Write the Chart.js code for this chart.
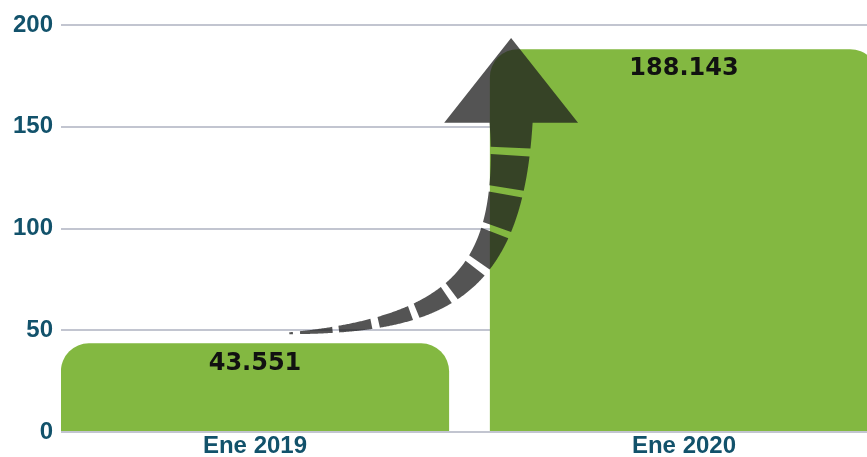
<!DOCTYPE html>
<html>
<head>
<meta charset="utf-8">
<script src="https://cdn.jsdelivr.net/npm/chart.js@4.4.1/dist/chart.umd.min.js"></script>
<style>
  body { margin: 0; background: #fff; overflow: hidden; }
</style>
</head>
<body>
<canvas id="chartContainer" width="867" height="457"></canvas>
<script>
"use strict";

// 1: data
let periods = ['Ene 2019', 'Ene 2020'];
let totals = [43.551, 188.143];
let yTicks = [0, 50, 100, 150, 200];

// arrow path, in axis units (x = category index, y = value)
let arrowPath = [
  { x: 0.08, y: 48.5 },
  { x: 0.455, y: 52.6 },
  { x: 0.597, y: 74.7 },
  { x: 0.597, y: 152 }
];
let arrowTipY = 193.6;

// 2: plugins
// curved dashed arrow drawn over the bars
const arrowPlugin = {
  id: 'arrow',
  afterDatasetsDraw(chart) {
    const ctx = chart.ctx;
    const xs = chart.scales.x;
    const ys = chart.scales.y;
    const p = arrowPath.map(pt => ({ x: xs.getPixelForValue(pt.x), y: ys.getPixelForValue(pt.y) }));
    const bez = t => {
      const u = 1 - t;
      return {
        x: u*u*u*p[0].x + 3*u*u*t*p[1].x + 3*u*t*t*p[2].x + t*t*t*p[3].x,
        y: u*u*u*p[0].y + 3*u*u*t*p[1].y + 3*u*t*t*p[2].y + t*t*t*p[3].y
      };
    };
    // sample curve
    const N = 400;
    let pts = [];
    let len = 0;
    for (let i = 0; i <= N; i++) {
      const pt = bez(i / N);
      if (i > 0) len += Math.hypot(pt.x - pts[i-1].x, pt.y - pts[i-1].y);
      pt.s = len;
      pts.push(pt);
    }
    for (let i = 0; i <= N; i++) {
      const a = pts[Math.max(0, i-1)], b = pts[Math.min(N, i+1)];
      const dx = b.x - a.x, dy = b.y - a.y, d = Math.hypot(dx, dy);
      pts[i].nx = -dy / d;
      pts[i].ny = dx / d;
      const f = pts[i].s / len;
      pts[i].w = 2 + 41 * Math.pow(f, 1.1);
    }
    // dash pattern measured from the head backwards
    const on = s => {
      const fromEnd = len - s;
      if (fromEnd < 26) return true;
      const r = (fromEnd - 26) % 40;
      return r >= 6;
    };
    ctx.save();
    ctx.fillStyle = 'rgba(30,30,30,0.76)';
    ctx.beginPath();
    let seg = [];
    const flush = () => {
      if (seg.length > 1) {
        ctx.moveTo(seg[0].x + seg[0].nx * seg[0].w / 2, seg[0].y + seg[0].ny * seg[0].w / 2);
        for (const q of seg) ctx.lineTo(q.x + q.nx * q.w / 2, q.y + q.ny * q.w / 2);
        for (let k = seg.length - 1; k >= 0; k--) {
          const q = seg[k];
          ctx.lineTo(q.x - q.nx * q.w / 2, q.y - q.ny * q.w / 2);
        }
        ctx.closePath();
      }
      seg = [];
    };
    for (const q of pts) {
      if (on(q.s)) seg.push(q); else flush();
    }
    flush();
    // arrow head
    const end = p[3];
    const half = xs.getPixelForValue(0.156) - xs.getPixelForValue(0);
    const tipY = ys.getPixelForValue(arrowTipY);
    ctx.moveTo(end.x - half, end.y);
    ctx.lineTo(end.x, tipY);
    ctx.lineTo(end.x + half, end.y);
    ctx.closePath();
    ctx.fill();
    ctx.restore();
  }
};

// value labels inside the top of each bar
const valueLabels = {
  id: 'valueLabels',
  afterDatasetsDraw(chart) {
    const ctx = chart.ctx;
    const meta = chart.getDatasetMeta(0);
    ctx.save();
    ctx.font = 'bold 24px "DejaVu Sans"';
    ctx.fillStyle = '#111';
    ctx.textAlign = 'center';
    ctx.textBaseline = 'middle';
    meta.data.forEach((bar, i) => {
      ctx.fillText(totals[i].toFixed(3), bar.x, bar.y + 20);
    });
    ctx.restore();
  }
};

// 3: chart
function appendChart() {
  let chartContainer = document.getElementById('chartContainer');
  new Chart(chartContainer, {
    type: 'bar',
    data: {
      datasets: [{
        data: totals.map((v, i) => ({ x: i, y: v })),
        backgroundColor: '#83b841',
        borderSkipped: 'start',
        borderRadius: { topLeft: 28, topRight: 28, bottomLeft: 0, bottomRight: 0 },
        categoryPercentage: 1,
        barPercentage: 0.905
      }]
    },
    options: {
      responsive: false,
      animation: false,
      layout: { padding: { top: 25, left: 0, right: 0, bottom: 0 } },
      plugins: {
        legend: { display: false },
        tooltip: { enabled: false }
      },
      scales: {
        x: {
          type: 'linear',
          offset: false,
          min: -0.4522,
          max: 1.4266,
          grid: { display: false, drawTicks: false, offset: false },
          border: { display: false },
          afterBuildTicks: s => { s.ticks = periods.map((_, i) => ({ value: i })); },
          afterFit: s => { s.height = 25; },
          ticks: {
            padding: 0,
            color: '#12526b',
            font: { family: '"Liberation Sans", Arial', size: 24, weight: 'bold' },
            callback: (v, i) => periods[i]
          }
        },
        y: {
          min: 0,
          max: 200,
          afterBuildTicks: s => { s.ticks = yTicks.map(v => ({ value: v })); },
          afterFit: s => { s.width = 61; },
          grid: { color: '#c2c5d0', lineWidth: 2, drawTicks: false },
          border: { display: false },
          ticks: {
            padding: 8,
            color: '#12526b',
            font: { family: '"Liberation Sans", Arial', size: 24, weight: 'bold' }
          }
        }
      }
    },
    plugins: [arrowPlugin, valueLabels]
  });
}

appendChart();
</script>
</body>
</html>
